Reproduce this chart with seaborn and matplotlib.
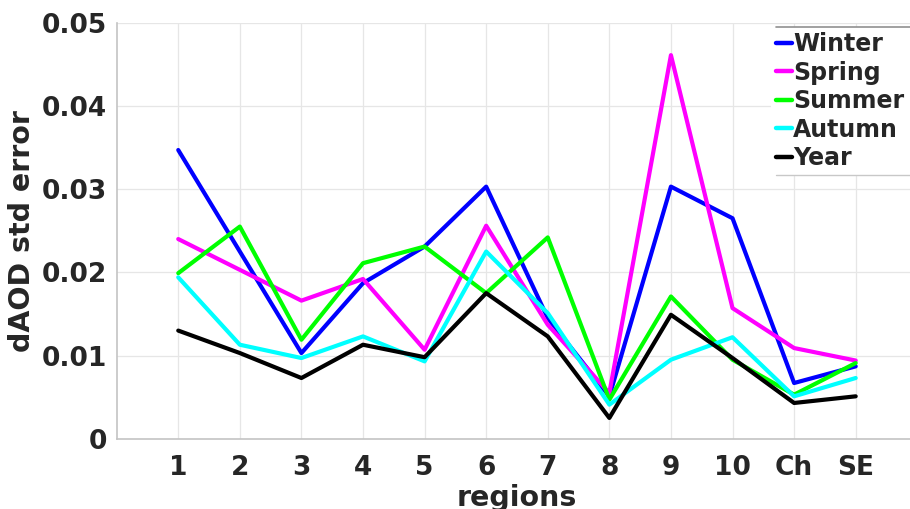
import numpy as np
import pandas as pd
import matplotlib
matplotlib.use("Agg")
import matplotlib.pyplot as plt
import seaborn as sns
from matplotlib.lines import Line2D

regions = ["1", "2", "3", "4", "5", "6", "7", "8", "9", "10", "Ch", "SE"]
winter = [0.0347, 0.0225, 0.0103, 0.0187, 0.0231, 0.0303, 0.0145, 0.0051, 0.0303, 0.0265, 0.0067, 0.0087]
spring = [0.0240, 0.0203, 0.0166, 0.0192, 0.0107, 0.0256, 0.0137, 0.0055, 0.0461, 0.0157, 0.0109, 0.0094]
summer = [0.0199, 0.0255, 0.0119, 0.0211, 0.0231, 0.0175, 0.0242, 0.0047, 0.0171, 0.0095, 0.0053, 0.0091]
autumn = [0.0194, 0.0113, 0.0097, 0.0123, 0.0093, 0.0225, 0.0151, 0.0041, 0.0095, 0.0122, 0.0051, 0.0073]
year = [0.0130, 0.0103, 0.0073, 0.0113, 0.0098, 0.0175, 0.0123, 0.0025, 0.0149, 0.0097, 0.0043, 0.0051]
series_names = ["Winter", "Spring", "Summer", "Autumn", "Year"]
colors = ["#0000ff", "#ff00ff", "#00ff00", "#00ffff", "#000000"]

rows = []
for name, vals in zip(series_names, [winter, spring, summer, autumn, year]):
    for i, v in enumerate(vals):
        rows.append({"pos": i + 1, "value": v, "season": name})
df = pd.DataFrame(rows)

sns.set_style("white")
plt.rcParams["font.family"] = ["DejaVu Sans"]
plt.rcParams["font.weight"] = "bold"

fig = plt.figure(figsize=(9.10, 5.09), dpi=100)
ax = fig.add_axes([0.1282, 0.138, 0.8798, 0.8174])

sns.lineplot(data=df, x="pos", y="value", hue="season", palette=dict(zip(series_names, colors)),
             hue_order=series_names, sort=False, linewidth=3.0, ax=ax, legend=False)

ax.set_xlim(0, 13)
ax.set_ylim(0, 0.05)
ax.set_xticks(range(1, len(regions) + 1))
ax.set_xticklabels(regions)
ax.set_yticks([0, 0.01, 0.02, 0.03, 0.04, 0.05])
ax.set_yticklabels(["0", "0.01", "0.02", "0.03", "0.04", "0.05"])

txtc = "#262626"
ax.tick_params(axis="both", direction="in", length=7, width=1, color="#707070",
               labelsize=19, labelcolor=txtc)
ax.tick_params(axis="x", pad=12)
ax.tick_params(axis="y", pad=7)
for lab in ax.get_xticklabels() + ax.get_yticklabels():
    lab.set_fontweight("bold")

ax.grid(True, color="#e6e6e6", linewidth=0.9)
ax.set_axisbelow(True)
for side in ["top", "right"]:
    ax.spines[side].set_visible(False)
for side in ["left", "bottom"]:
    ax.spines[side].set_color("#c4c4c4")
    ax.spines[side].set_linewidth(1.2)

ax.set_xlabel("regions", fontsize=20.5, fontweight="bold", color=txtc, labelpad=2)
ax.set_ylabel("dAOD std error", fontsize=20.5, fontweight="bold", color=txtc, labelpad=4)

handles = [Line2D([], [], color=c, lw=3.2) for c in colors]
leg = ax.legend(handles, series_names, loc="upper left", bbox_to_anchor=(0.817, 0.99),
                prop={"size": 17, "weight": "bold"}, handlelength=0.68, handletextpad=0.05,
                labelspacing=0.19, borderpad=0.22, borderaxespad=0, frameon=True,
                fancybox=False)
leg.get_frame().set_edgecolor("none")
leg.get_frame().set_facecolor("white")
leg.get_frame().set_alpha(1)

fig.canvas.draw()
bb = leg.get_window_extent().transformed(fig.transFigure.inverted())
x0 = bb.x0 + 5.0 / 910
fig.add_artist(Line2D([x0, 1.0], [bb.y1, bb.y1], color="#909090", lw=1.2, transform=fig.transFigure))
fig.add_artist(Line2D([x0, 1.0], [bb.y0, bb.y0], color="#c8c8c8", lw=1.0, transform=fig.transFigure))

fig.savefig("out.png", dpi=100)
